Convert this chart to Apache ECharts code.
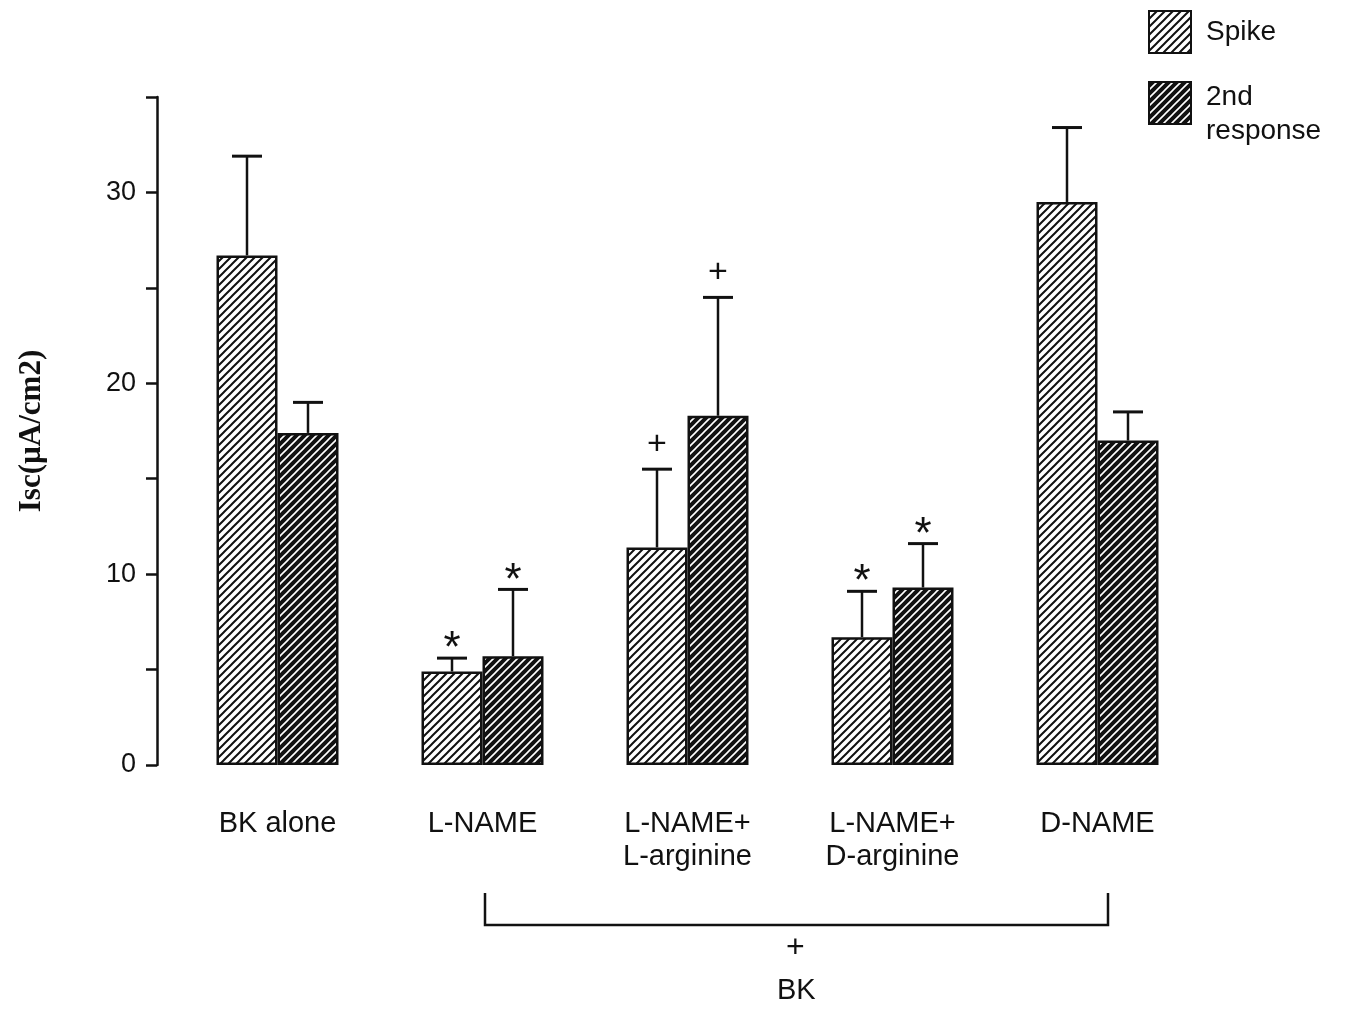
<!doctype html>
<html>
<head>
<meta charset="utf-8" />
<script src="https://cdn.jsdelivr.net/npm/echarts@6/dist/echarts.min.js"></script>
<style>
  body { margin: 0; background: #fff; }
  #chart { width: 1354px; height: 1011px; }
</style>
</head>
<body>
<div id="chart"></div>
<script>
const categories = ["BK alone", "L-NAME", "L-NAME+\nL-arginine", "L-NAME+\nD-arginine", "D-NAME"];
const spike = [26.7, 4.9, 11.4, 6.7, 29.5];
const spikeErr = [31.9, 5.6, 15.5, 9.1, 33.4];
const spikeMark = ["", "*", "+", "*", ""];
const second = [17.4, 5.7, 18.3, 9.3, 17.0];
const secondErr = [19.0, 9.2, 24.5, 11.6, 18.5];
const secondMark = ["", "*", "+", "*", ""];
const yLabels = [0, 10, 20, 30];

// diagonal hatch fill
function hatch(bg, fg, lw) {
  const c = document.createElement("canvas");
  c.width = 8; c.height = 8;
  const g = c.getContext("2d");
  g.fillStyle = bg; g.fillRect(0, 0, 8, 8);
  g.strokeStyle = fg; g.lineWidth = lw;
  g.beginPath();
  g.moveTo(-2, 10); g.lineTo(10, -2);
  g.moveTo(-2, 2); g.lineTo(2, -2);
  g.moveTo(6, 10); g.lineTo(10, 6);
  g.stroke();
  return { image: c, repeat: "repeat" };
}

const barW = 61;
const font = "Liberation Sans, Arial, sans-serif";

function errSeries(name, vals, tops, marks, dx) {
  return {
    type: "custom",
    name: name + " err",
    z: 5,
    data: vals.map((v, i) => [i, v, tops[i]]),
    renderItem: (params, api) => {
      const base = api.coord([api.value(0), api.value(1)]);
      const top = api.coord([api.value(0), api.value(2)]);
      const x = base[0] + dx;
      const children = [
        { type: "line", shape: { x1: x, y1: base[1], x2: x, y2: top[1] }, style: { stroke: "#111", lineWidth: 2.5 } },
        { type: "line", shape: { x1: x - 15, y1: top[1], x2: x + 15, y2: top[1] }, style: { stroke: "#111", lineWidth: 3 } }
      ];
      const m = marks[params.dataIndex];
      if (m) {
        const star = m === "*";
        children.push({
          type: "text",
          style: { text: m, x: x, y: top[1] - (star ? 8 : 25), align: "center", verticalAlign: "middle",
            font: (star ? "44px " : "34px ") + font, fill: "#111" }
        });
      }
      return { type: "group", children };
    }
  };
}

const chart = echarts.init(document.getElementById("chart"), null, { renderer: "canvas" });
chart.setOption({
  animation: false,
  backgroundColor: "#ffffff",
  grid: { left: 175, right: 154, top: 97, bottom: 246 },
  legend: {
    orient: "vertical",
    left: 1143,
    top: 5,
    icon: "rect",
    itemWidth: 42,
    itemHeight: 42,
    itemGap: 4,
    formatter: n => (n === "Spike" ? n : "{gap| }\n" + n),
    textStyle: {
      fontFamily: font, fontSize: 28, color: "#111", lineHeight: 34, padding: [0, 0, 0, 10],
      rich: { gap: { height: 22, lineHeight: 22, fontSize: 10 } }
    },
    data: ["Spike", "2nd\nresponse"]
  },
  xAxis: {
    type: "category",
    data: categories,
    axisLine: { show: false },
    axisTick: { show: false },
    axisLabel: { color: "#111", fontFamily: font, fontSize: 29, lineHeight: 33, margin: 42 }
  },
  yAxis: {
    type: "value",
    min: 0,
    max: 35,
    interval: 5,
    offset: 18,
    splitLine: { show: false },
    axisLine: { show: true, lineStyle: { color: "#111", width: 2.5 } },
    axisTick: { show: true, length: 11, lineStyle: { color: "#111", width: 2.5 } },
    axisLabel: {
      color: "#111", fontFamily: font, fontSize: 27, margin: 21,
      formatter: v => (yLabels.includes(v) ? String(v) : "")
    },
    name: "Isc(\u00b5A/cm2)",
    nameLocation: "middle",
    nameGap: 110,
    nameTextStyle: { fontFamily: "Liberation Serif, Times New Roman, serif", fontWeight: "bold", fontSize: 31, color: "#111" }
  },
  series: [
    {
      name: "Spike",
      type: "bar",
      barWidth: barW,
      barGap: "0%",
      data: spike,
      itemStyle: { color: hatch("#ffffff", "#111111", 2), borderColor: "#111", borderWidth: 2.5 }
    },
    {
      name: "2nd\nresponse",
      type: "bar",
      barWidth: barW,
      barGap: "0%",
      data: second,
      itemStyle: { color: hatch("#111111", "#ffffff", 1.6), borderColor: "#111", borderWidth: 2.5 }
    },
    errSeries("Spike", spike, spikeErr, spikeMark, -barW / 2),
    errSeries("2nd", second, secondErr, secondMark, barW / 2)
  ],
  graphic: [
    { type: "polyline", shape: { points: [[485, 893], [485, 925], [1108, 925], [1108, 893]] },
      style: { stroke: "#111", lineWidth: 2.5, fill: null } },
    { type: "text", left: 786, top: 932, style: { text: "+", font: "32px " + font, fill: "#111" } },
    { type: "text", left: 777, top: 976, style: { text: "BK", font: "29px " + font, fill: "#111" } }
  ]
});
</script>
</body>
</html>
